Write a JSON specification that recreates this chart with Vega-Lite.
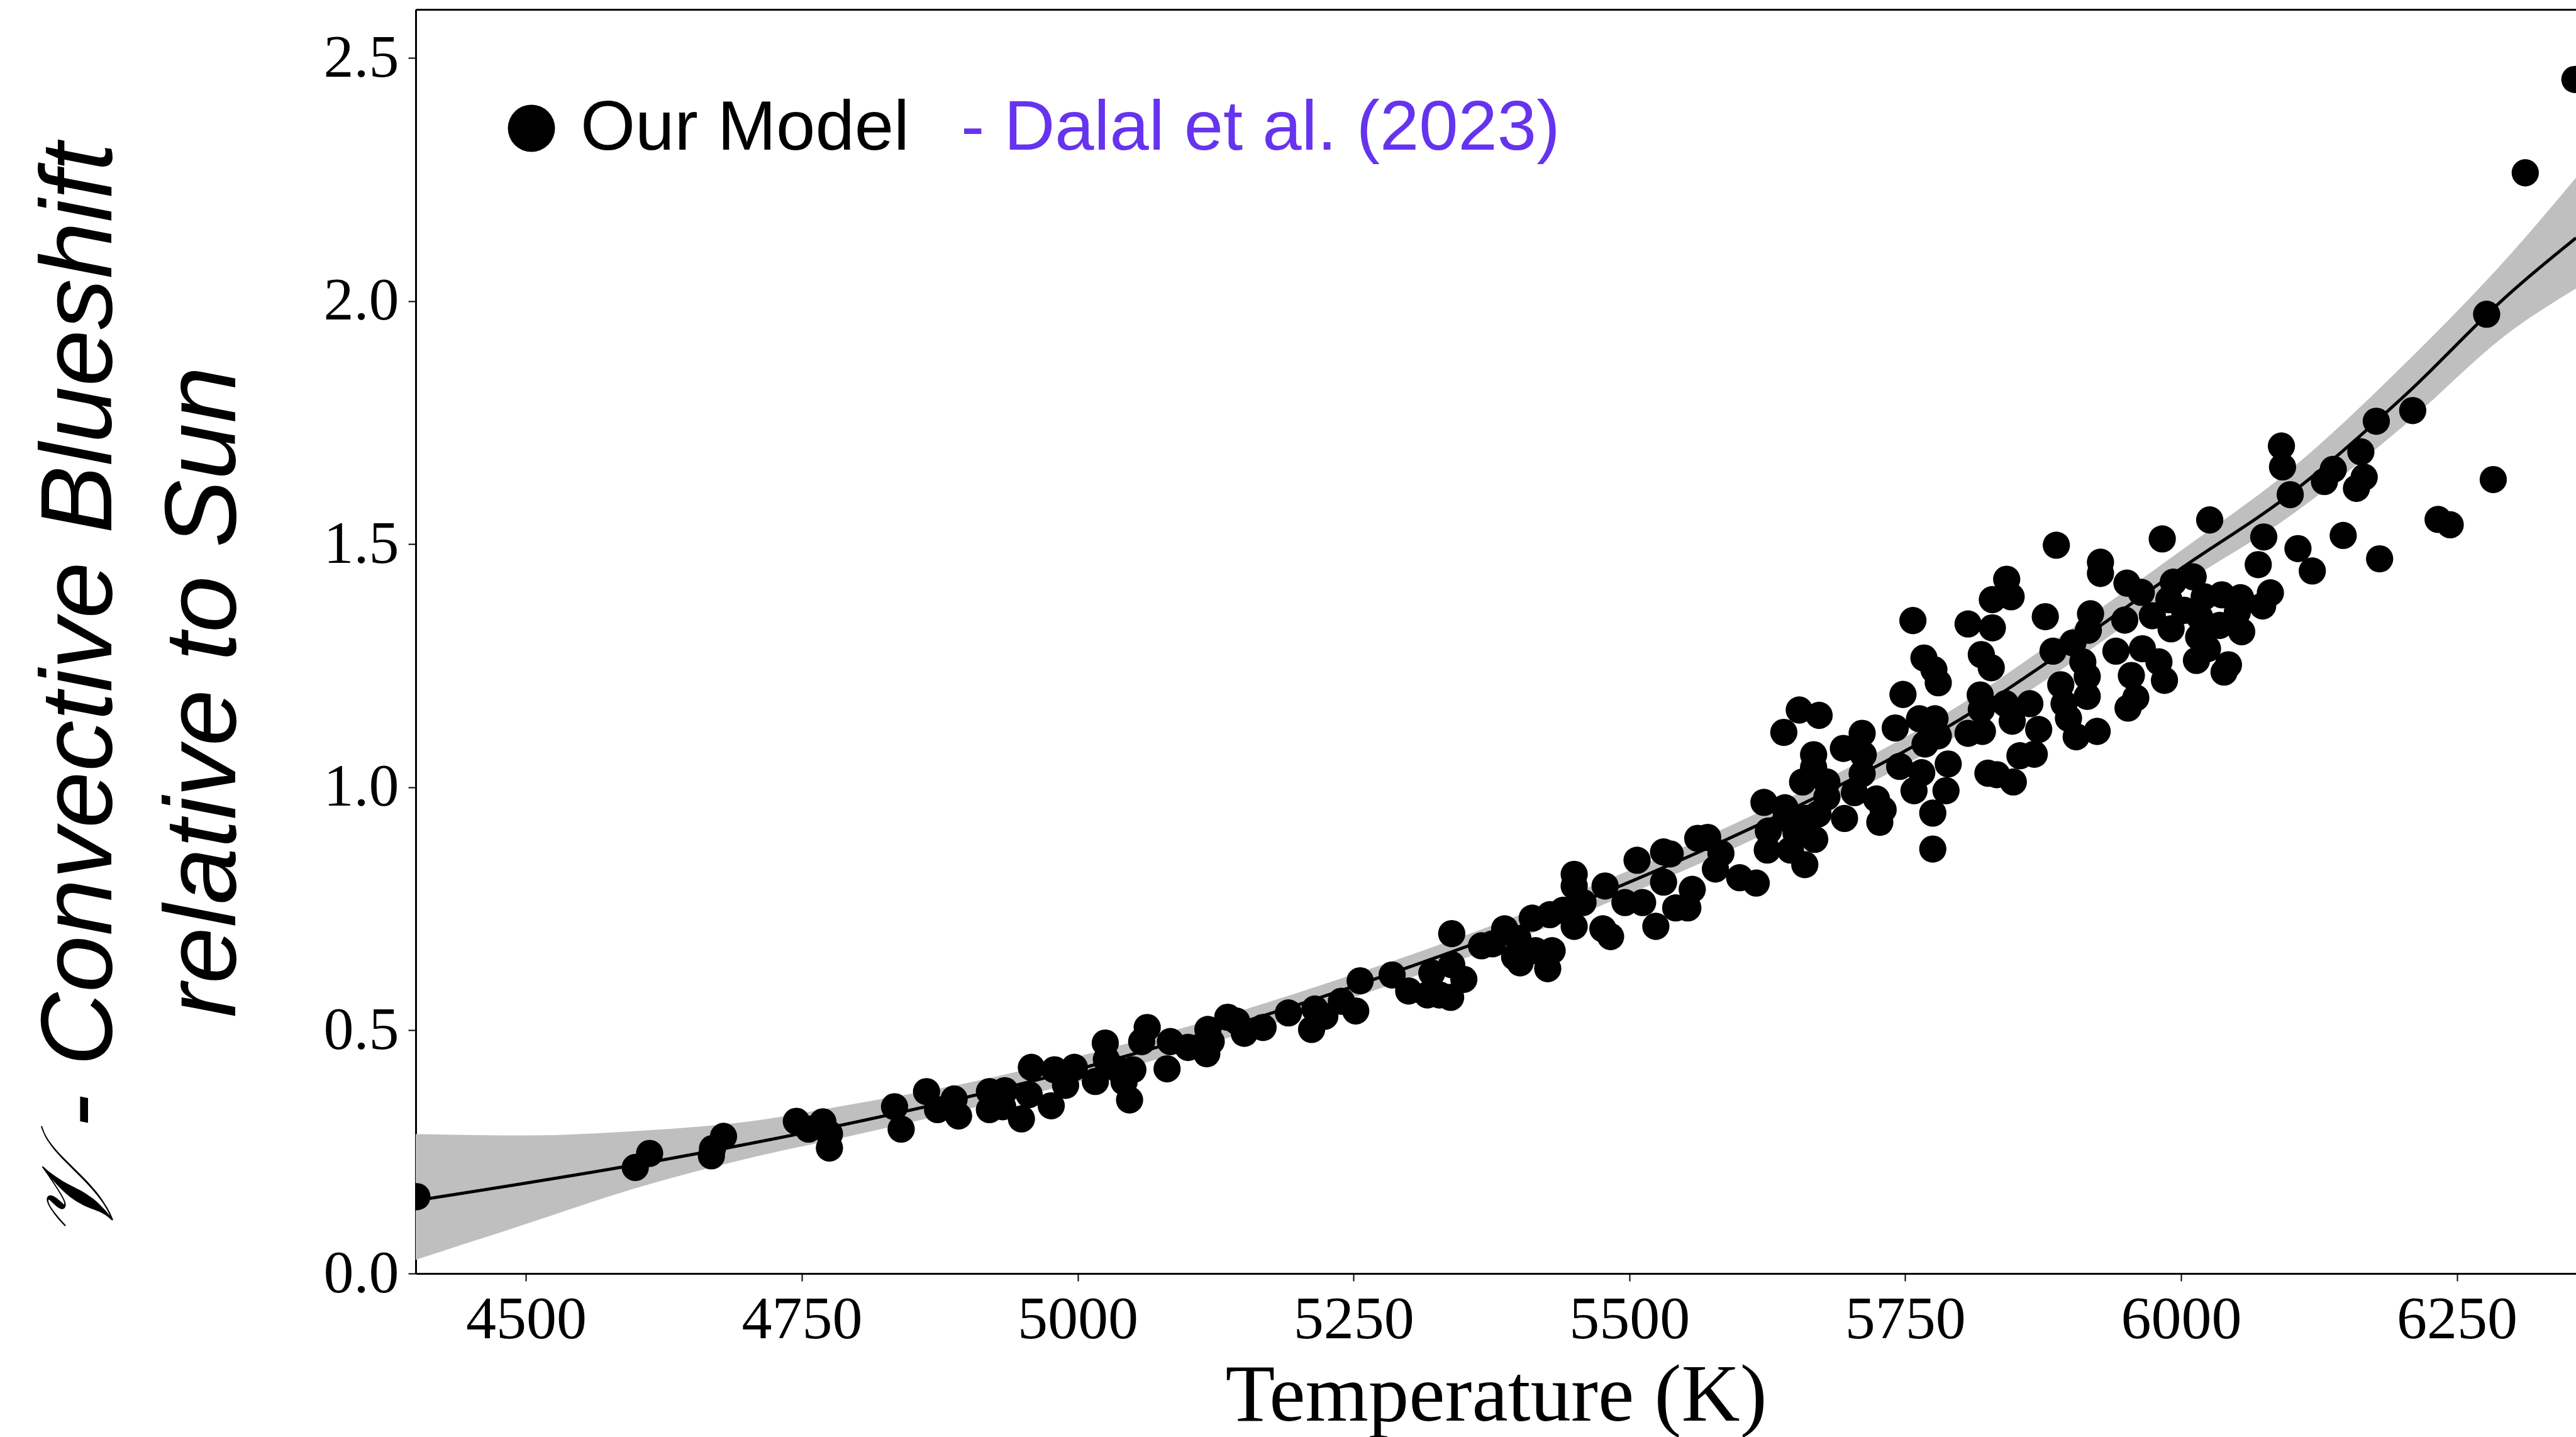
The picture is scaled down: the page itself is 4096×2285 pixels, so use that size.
{
  "$schema": "https://vega.github.io/schema/vega-lite/v6.json",
  "autosize": "none",
  "width": 3435,
  "height": 2010,
  "padding": {"left": 661, "top": 15, "right": 0, "bottom": 260},
  "background": "white",
  "config": {
    "view": {"stroke": null},
    "axis": {"grid": false, "domainColor": "black", "domainWidth": 3, "tickColor": "black", "tickWidth": 2, "tickSize": 12, "labelFont": "Liberation Serif", "labelFontSize": 96, "labelColor": "black", "labelLimit": 0, "titleColor": "black", "titleFontWeight": "normal", "titleLimit": 0},
    "legend": {"labelLimit": 0, "padding": 0, "title": null}
  },
  "datasets": {
    "fit": [
      {"T": 4400, "fit": 0.150, "lo": 0.028, "hi": 0.287},
      {"T": 4500, "fit": 0.186, "lo": 0.102, "hi": 0.284},
      {"T": 4600, "fit": 0.224, "lo": 0.176, "hi": 0.293},
      {"T": 4700, "fit": 0.266, "lo": 0.236, "hi": 0.312},
      {"T": 4800, "fit": 0.312, "lo": 0.286, "hi": 0.350},
      {"T": 4900, "fit": 0.363, "lo": 0.338, "hi": 0.392},
      {"T": 5000, "fit": 0.420, "lo": 0.394, "hi": 0.446},
      {"T": 5100, "fit": 0.484, "lo": 0.460, "hi": 0.508},
      {"T": 5200, "fit": 0.553, "lo": 0.530, "hi": 0.578},
      {"T": 5300, "fit": 0.630, "lo": 0.607, "hi": 0.654},
      {"T": 5400, "fit": 0.713, "lo": 0.690, "hi": 0.737},
      {"T": 5500, "fit": 0.805, "lo": 0.781, "hi": 0.829},
      {"T": 5600, "fit": 0.905, "lo": 0.880, "hi": 0.930},
      {"T": 5700, "fit": 1.015, "lo": 0.988, "hi": 1.042},
      {"T": 5800, "fit": 1.140, "lo": 1.110, "hi": 1.170},
      {"T": 5900, "fit": 1.290, "lo": 1.255, "hi": 1.325},
      {"T": 6000, "fit": 1.450, "lo": 1.415, "hi": 1.487},
      {"T": 6100, "fit": 1.605, "lo": 1.560, "hi": 1.655},
      {"T": 6200, "fit": 1.800, "lo": 1.740, "hi": 1.865},
      {"T": 6300, "fit": 2.020, "lo": 1.940, "hi": 2.100},
      {"T": 6358, "fit": 2.130, "lo": 2.026, "hi": 2.254}
    ],
    "stars": [
      {"T":4401,"v":0.158},{"T":4599,"v":0.218},{"T":4612,"v":0.247},{"T":4669,"v":0.257},{"T":4679,"v":0.282},{"T":4668,"v":0.242},{"T":4745,"v":0.313},{"T":4756,"v":0.297},{"T":4769,"v":0.312},{"T":4775,"v":0.258},{"T":4775,"v":0.287},{"T":4834,"v":0.343},{"T":4840,"v":0.297},
      {"T":4863,"v":0.374},{"T":4873,"v":0.337},{"T":4888,"v":0.359},{"T":4892,"v":0.324},{"T":4920,"v":0.374},{"T":4920,"v":0.337},{"T":4934,"v":0.376},{"T":4932,"v":0.343},{"T":4949,"v":0.318},{"T":4958,"v":0.424},{"T":4956,"v":0.368},{"T":4976,"v":0.345},{"T":4979,"v":0.419},{"T":4997,"v":0.424},{"T":4989,"v":0.387},{"T":5016,"v":0.395},{"T":5025,"v":0.474},{"T":5026,"v":0.44},{"T":5037,"v":0.419},{"T":5050,"v":0.419},{"T":5042,"v":0.394},{"T":5047,"v":0.357},{"T":5063,"v":0.506},{"T":5058,"v":0.477},{"T":5081,"v":0.421},{"T":5084,"v":0.477},{"T":5100,"v":0.465},{"T":5118,"v":0.502},{"T":5117,"v":0.452},{"T":5121,"v":0.477},{"T":5136,"v":0.527},{"T":5144,"v":0.519},{"T":5151,"v":0.494},{"T":5168,"v":0.506},{"T":5191,"v":0.536},{"T":5212,"v":0.502},{"T":5215,"v":0.544},
      {"T":5224,"v":0.529},{"T":5239,"v":0.56},{"T":5252,"v":0.54},{"T":5256,"v":0.602},{"T":5285,"v":0.614},{"T":5300,"v":0.581},{"T":5317,"v":0.573},{"T":5321,"v":0.618},{"T":5328,"v":0.573},{"T":5338,"v":0.568},{"T":5339,"v":0.635},{"T":5339,"v":0.699},{"T":5350,"v":0.605},{"T":5366,"v":0.674},{"T":5376,"v":0.678},{"T":5387,"v":0.709},{"T":5396,"v":0.651},{"T":5401,"v":0.639},{"T":5399,"v":0.689},{"T":5412,"v":0.731},{"T":5415,"v":0.664},{"T":5426,"v":0.627},{"T":5430,"v":0.664},{"T":5428,"v":0.738},{"T":5440,"v":0.747},{"T":5450,"v":0.714},{"T":5450,"v":0.821},{"T":5450,"v":0.797},{"T":5458,"v":0.763},{"T":5476,"v":0.709},{"T":5483,"v":0.693},{"T":5478,"v":0.797},{"T":5496,"v":0.763},{"T":5507,"v":0.85},{"T":5512,"v":0.763},{"T":5524,"v":0.714},{"T":5531,"v":0.867},{"T":5537,"v":0.863},{"T":5531,"v":0.805},{"T":5542,"v":0.752},{"T":5553,"v":0.752},{"T":5557,"v":0.79},
      {"T":5562,"v":0.895},{"T":5571,"v":0.897},{"T":5583,"v":0.864},{"T":5578,"v":0.832},{"T":5600,"v":0.814},{"T":5615,"v":0.803},{"T":5622,"v":0.969},{"T":5625,"v":0.871},{"T":5640,"v":1.113},{"T":5654,"v":1.159},{"T":5672,"v":1.148},{"T":5641,"v":0.958},{"T":5626,"v":0.91},{"T":5642,"v":0.936},{"T":5651,"v":0.906},{"T":5660,"v":0.936},{"T":5668,"v":0.893},{"T":5659,"v":0.841},{"T":5646,"v":0.871},{"T":5667,"v":1.067},{"T":5667,"v":1.041},{"T":5657,"v":1.011},{"T":5679,"v":1.011},{"T":5679,"v":0.98},{"T":5671,"v":0.945},{"T":5694,"v":1.08},{"T":5711,"v":1.111},{"T":5712,"v":1.067},{"T":5711,"v":1.028},{"T":5704,"v":0.989},{"T":5724,"v":0.976},{"T":5695,"v":0.936},{"T":5727,"v":0.928},{"T":5730,"v":0.954},{"T":5741,"v":1.122},{"T":5748,"v":1.191},{"T":5757,"v":1.343},{"T":5767,"v":1.266},{"T":5776,"v":1.242},{"T":5780,"v":1.215},{"T":5745,"v":1.043},{"T":5763,"v":1.141},{"T":5777,"v":1.141},{"T":5780,"v":1.106},{"T":5768,"v":1.089},{"T":5789,"v":1.048},{"T":5758,"v":0.993},{"T":5787,"v":0.993},{"T":5775,"v":0.947},{"T":5775,"v":0.873},{"T":5807,"v":1.336},{"T":5807,"v":1.111},{"T":5765,"v":1.03},
      {"T":5829,"v":1.386},{"T":5842,"v":1.428},{"T":5846,"v":1.392},{"T":5829,"v":1.328},{"T":5819,"v":1.273},{"T":5828,"v":1.246},{"T":5887,"v":1.498},{"T":5927,"v":1.463},{"T":5927,"v":1.44},{"T":5983,"v":1.511},{"T":6026,"v":1.55},{"T":5877,"v":1.351},{"T":5918,"v":1.357},{"T":5951,"v":1.42},{"T":5964,"v":1.401},{"T":5993,"v":1.422},{"T":6011,"v":1.433},{"T":5949,"v":1.344},{"T":5974,"v":1.353},{"T":5989,"v":1.386},{"T":5991,"v":1.326},{"T":6017,"v":1.35},{"T":6021,"v":1.392},{"T":6016,"v":1.309},{"T":6014,"v":1.261},{"T":5916,"v":1.323},{"T":5884,"v":1.28},{"T":5902,"v":1.297},{"T":5911,"v":1.258},{"T":5915,"v":1.228},{"T":5915,"v":1.187},{"T":5891,"v":1.211},{"T":5894,"v":1.172},{"T":5898,"v":1.142},{"T":5905,"v":1.104},{"T":5924,"v":1.115},{"T":5941,"v":1.28},{"T":5965,"v":1.285},{"T":5955,"v":1.23},{"T":5980,"v":1.258},{"T":5985,"v":1.22},{"T":5959,"v":1.184},{"T":5952,"v":1.163},{"T":5818,"v":1.19},{"T":5819,"v":1.16},{"T":5820,"v":1.115},{"T":5841,"v":1.172},{"T":5847,"v":1.136},{"T":5863,"v":1.172},{"T":5871,"v":1.119},{"T":5854,"v":1.065},{"T":5867,"v":1.068},{"T":5825,"v":1.029},{"T":5833,"v":1.026},{"T":5848,"v":1.011},
      {"T":6091,"v":1.702},{"T":6092,"v":1.659},{"T":6099,"v":1.602},{"T":6138,"v":1.654},{"T":6130,"v":1.629},{"T":6163,"v":1.69},{"T":6166,"v":1.638},{"T":6159,"v":1.615},{"T":6177,"v":1.753},{"T":6210,"v":1.775},{"T":6283,"v":1.633},{"T":6233,"v":1.551},{"T":6244,"v":1.54},{"T":6147,"v":1.518},{"T":6180,"v":1.47},{"T":6075,"v":1.515},{"T":6070,"v":1.458},{"T":6106,"v":1.491},{"T":6119,"v":1.445},{"T":6054,"v":1.39},{"T":6081,"v":1.4},{"T":6074,"v":1.373},{"T":6037,"v":1.396},{"T":6003,"v":1.364},{"T":6035,"v":1.333},{"T":6055,"v":1.32},{"T":6051,"v":1.36},{"T":6024,"v":1.285},{"T":6039,"v":1.237},{"T":6043,"v":1.252},
      {"T":6357,"v":2.456},{"T":6312,"v":2.264},{"T":6277,"v":1.973}
    ]
  },
  "resolve": {"axis": {"x": "independent"}},
  "layer": [
    {
      "data": {"name": "fit"},
      "mark": {"type": "area", "color": "#bfbfbf", "opacity": 1, "clip": true, "interpolate": "monotone"},
      "encoding": {
        "x": {"field": "T", "type": "quantitative", "scale": {"domain": [4400, 6358], "nice": false, "zero": false},
              "axis": {"orient": "top", "labels": false, "ticks": false, "title": null, "domainWidth": 3}},
        "y": {"field": "lo", "type": "quantitative", "scale": {"domain": [0, 2.6], "nice": false}},
        "y2": {"field": "hi"}
      }
    },
    {
      "data": {"name": "fit"},
      "mark": {"type": "line", "strokeWidth": 5, "color": "black", "clip": true, "interpolate": "monotone"},
      "encoding": {
        "x": {"field": "T", "type": "quantitative", "axis": null},
        "y": {"field": "fit", "type": "quantitative"},
        "strokeDash": {"datum": "- Dalal et al. (2023)", "type": "nominal",
                       "scale": {"domain": ["- Dalal et al. (2023)"], "range": [[1, 0]]},
                       "legend": {"orient": "none", "legendX": 755, "legendY": 133, "direction": "horizontal",
                                  "symbolSize": 0, "symbolOpacity": 0, "symbolStrokeWidth": 0, "labelOffset": 0,
                                  "labelFont": "Liberation Sans", "labelFontSize": 112, "labelColor": "#6633ee"}}
      }
    },
    {
      "data": {"name": "stars"},
      "mark": {"type": "point", "filled": true, "opacity": 1, "size": 1875, "shape": "circle", "clip": true, "strokeWidth": 0},
      "encoding": {
        "x": {"field": "T", "type": "quantitative",
              "axis": {"orient": "bottom", "values": [4500, 4750, 5000, 5250, 5500, 5750, 6000, 6250], "format": "d", "labelPadding": 14,
                       "title": "Temperature (K)", "titleFont": "Liberation Serif", "titleFontSize": 129, "titleX": 1717.5, "titleY": 233, "titleAlign": "center", "titleBaseline": "alphabetic"}},
        "y": {"field": "v", "type": "quantitative",
              "axis": {"values": [0, 0.5, 1.0, 1.5, 2.0, 2.5], "format": ".1f", "labelPadding": 15,
                       "title": ["𝒱  -  Convective Blueshift", "relative to Sun"], "titleFont": "Liberation Sans", "titleFontStyle": "italic", "titleFontSize": 162,
                       "titleAngle": 270, "titleX": -485, "titleY": 1085, "titleAlign": "center", "titleBaseline": "alphabetic", "titleLineHeight": 197}},
        "color": {"datum": "Our Model", "type": "nominal",
                  "scale": {"domain": ["Our Model"], "range": ["black"]},
                  "legend": {"orient": "none", "legendX": 128, "legendY": 133, "direction": "horizontal",
                             "symbolType": "circle", "symbolSize": 5625, "symbolStrokeWidth": 0,
                             "labelFont": "Liberation Sans", "labelFontSize": 112, "labelOffset": 22, "labelColor": "black"}}
      }
    }
  ]
}
